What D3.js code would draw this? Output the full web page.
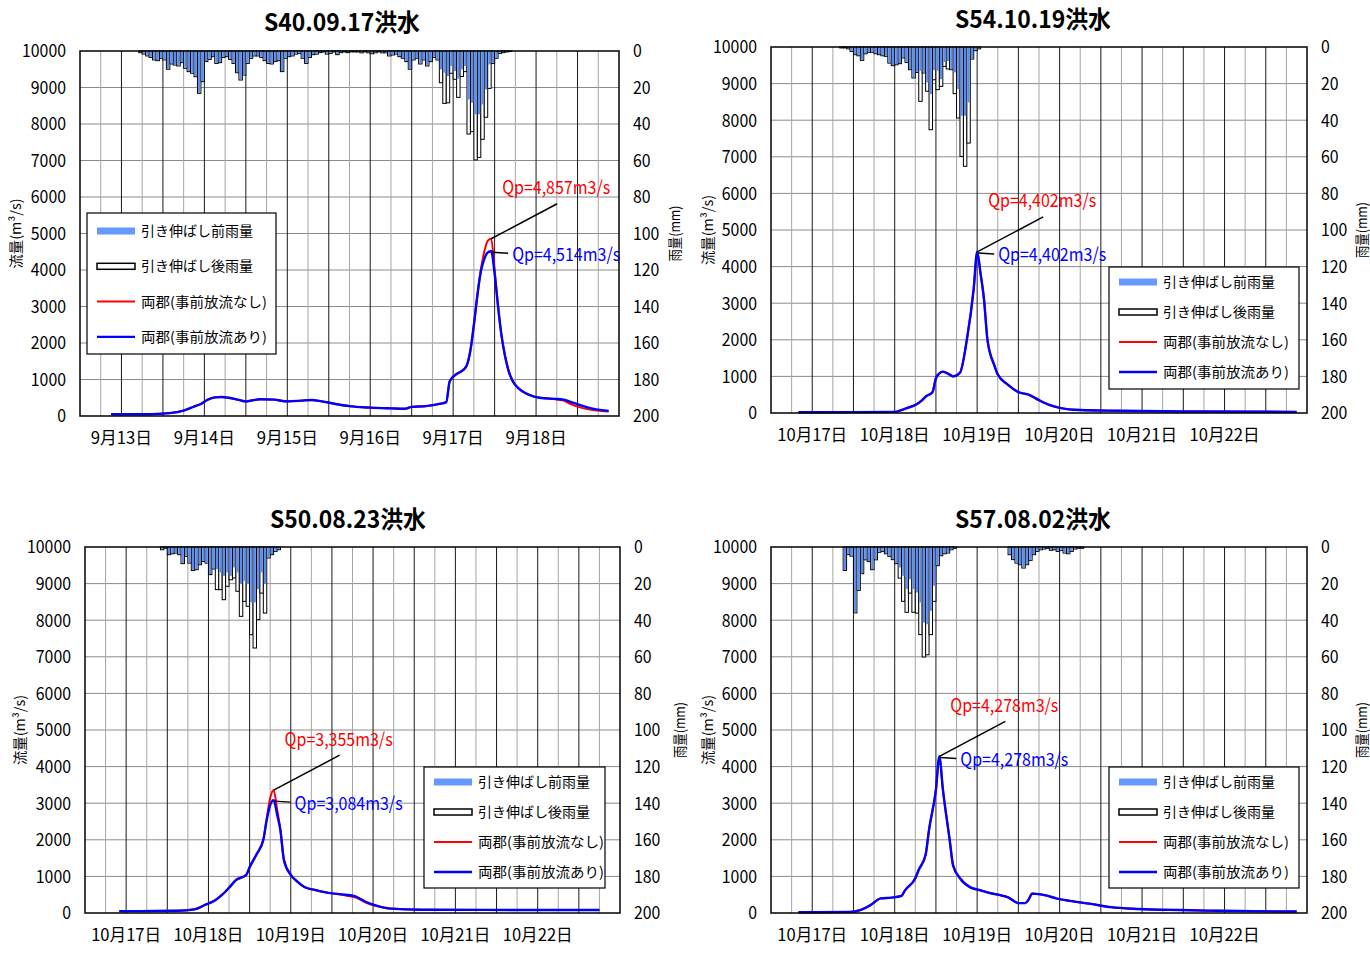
<!DOCTYPE html>
<html><head><meta charset="utf-8">
<script src="https://cdn.jsdelivr.net/npm/d3@7/dist/d3.min.js"></script>
<style>
body{margin:0;background:#fff}
svg text{font-family:"Noto Sans CJK JP","Noto Sans",sans-serif;fill:#000}
</style></head>
<body><svg id="chart" width="1370" height="953"></svg>
<script>
// ---- shared labels / ticks ----
const daysSep = ["9月13日","9月14日","9月15日","9月16日","9月17日","9月18日"];
const daysOct = ["10月17日","10月18日","10月19日","10月20日","10月21日","10月22日"];
const flowTicks = [0,1000,2000,3000,4000,5000,6000,7000,8000,9000,10000];
const rainTicks = [0,20,40,60,80,100,120,140,160,180,200];
const legendLabels = ["引き伸ばし前雨量","引き伸ばし後雨量","両郡(事前放流なし)","両郡(事前放流あり)"];
const flowTitle = "流量(m³/s)";
const rainTitle = "雨量(mm)";

// ---- S40.09.17 flood (hours from axis start) ----
const title1 = "S40.09.17洪水";
const rainStart1 = 17;
const rainBefore1 = [0.9,1.7,2.7,3.5,4.9,5.3,4.0,4.9,10.0,7.1,7.7,8.2,6.4,9.5,11.3,12.2,14.1,23.2,16.8,5.8,
 4.6,3.1,6.8,6.4,3.5,3.1,4.6,6.8,11.9,15.9,13.2,6.8,4.0,2.7,2.7,3.5,5.3,6.8,7.1,5.8,
 5.3,11.3,4.0,3.1,2.7,1.7,1.3,4.0,6.8,3.5,2.0,1.7,0.9,0.5,1.7,1.3,0.5,2.0,0.9,0.5,
 0.9,0.5,0.5,0.5,1.0,0.5,1.0,1.5,1.0,0.5,1.0,1.0,2.7,2.2,1.7,3.1,4.0,5.8,10.0,4.9,
 4.0,7.1,4.9,8.2,5.8,3.5,4.9,10.4,12.2,14.1,8.6,11.3,15.5,10.4,8.6,26.8,28.7,35.0,35.0,29.6,
 21.4,7.7,6.8,4.0,1.3,0.9,0.5,0.3];
const rainAfter1 = [0.9,1.7,2.7,3.5,4.9,5.3,4.0,4.9,10.0,7.1,7.7,8.2,6.4,9.5,11.3,12.2,14.1,23.2,16.8,5.8,
 4.6,3.1,6.8,6.4,3.5,3.1,4.6,6.8,11.9,15.9,13.2,6.8,4.0,2.7,2.7,3.5,5.3,6.8,7.1,5.8,
 5.3,11.3,4.0,3.1,2.7,1.7,1.3,4.0,6.8,3.5,2.0,1.7,0.9,0.5,1.7,1.3,0.5,2.0,0.9,0.5,
 0.9,0.5,0.5,0.5,1.0,0.5,1.0,1.5,1.0,0.5,1.0,1.0,2.7,2.2,1.7,3.1,4.0,5.8,10.0,4.9,
 4.0,7.1,4.9,8.2,5.8,3.5,4.9,17.4,28.7,28.4,12.2,15.5,25.4,14.0,11.3,45.5,44.2,59.7,58.3,48.4,
 36.3,20.5,6.8,4.0,1.3,0.9,0.5,0.3];
const flowNone1 = [[9,50],[20,50],[26,80],[30,150],[33,260],[35,330],[37,450],[39,510],[41,520],[43,500],[46,440],[48,400],
 [50,430],[52,460],[56,450],[60,400],[64,420],[67,440],[70,400],[74,330],[78,270],[84,230],[90,210],[94,200],[96,250],
 [100,270],[104,330],[106,380],[107,950],[109,1150],[111,1270],[112,1400],[113,1800],[114,2500],[115,3300],[116,4000],
 [117,4500],[118,4800],[119,4857],[120,4000],[121,3000],[122,2200],[123,1650],[124,1250],[125,1000],[126,850],[128,680],
 [130,580],[133,500],[137,470],[140,420],[142,330],[145,230],[148,170],[151,140],[153,125]];
const flowWith1 = [[9,50],[20,50],[26,80],[30,150],[33,260],[35,330],[37,450],[39,510],[41,520],[43,500],[46,440],[48,400],
 [50,430],[52,460],[56,450],[60,400],[64,420],[67,440],[70,400],[74,330],[78,270],[84,230],[90,210],[94,200],[96,250],
 [100,270],[104,330],[106,380],[107,950],[109,1150],[111,1270],[112,1400],[113,1800],[114,2500],[115,3300],[116,3950],
 [117,4300],[118,4480],[119,4514],[120,3900],[121,3000],[122,2200],[123,1650],[124,1250],[125,1000],[126,850],[128,680],
 [130,580],[133,500],[137,470],[140,450],[142,390],[145,290],[148,210],[151,160],[153,140]];
const peakNone1 = 4857, peakWith1 = 4514;

// ---- S54.10.19 flood ----
const title2 = "S54.10.19洪水";
const rainStart2 = 20;
const rainBefore2 = [0.5,0.5,1.0,2.4,4.2,4.8,7.3,3.7,2.9,2.9,3.7,4.2,4.8,5.1,8.8,10.2,9.7,9.1,6.0,8.4,
 12.4,16.9,13.9,13.3,14.2,19.7,26.1,13.0,13.3,17.9,8.5,8.0,12.4,14.2,23.3,37.9,37.9,30.6,6.6,2.0,1.0];
const rainAfter2 = [0.5,0.5,1.0,2.4,4.2,4.8,7.3,3.7,2.9,2.9,3.7,4.2,4.8,5.1,8.8,10.2,9.7,9.1,6.0,8.4,
 12.4,16.9,13.9,29.7,14.2,24.2,45.2,17.9,23.3,21.5,10.6,12.0,12.4,25.5,38.8,59.8,65.2,52.5,6.6,2.0,1.0];
const flowNone2 = [[8,20],[36,30],[38,80],[40,150],[42,220],[44,350],[45,450],[47,570],[48,950],[49,1080],[50,1130],
 [51,1100],[52,1050],[53,1000],[55,1100],[57,2000],[59,3400],[60,4402],[61,3800],[62,3100],[63,2000],[65,1300],[66,1050],
 [69,770],[72,570],[75,500],[78,350],[81,220],[84,140],[90,80],[101,60],[125,40],[153,30]];
const flowWith2 = [[8,20],[36,30],[38,80],[40,150],[42,220],[44,350],[45,450],[47,570],[48,950],[49,1080],[50,1130],
 [51,1100],[52,1050],[53,1000],[55,1100],[57,2000],[59,3400],[60,4402],[61,3800],[62,3100],[63,2000],[65,1300],[66,1050],
 [69,770],[72,570],[75,500],[78,350],[81,220],[84,140],[90,80],[101,60],[125,40],[153,30]];
const peakNone2 = 4402, peakWith2 = 4402;

// ---- S50.08.23 flood ----
const title3 = "S50.08.23洪水";
const rainStart3 = 22;
const rainBefore3 = [1.5,0.7,4.2,3.7,3.3,4.2,9.1,5.1,8.8,12.8,12.4,9.7,7.9,8.8,15.1,12.0,12.4,14.2,16.1,14.2,
 16.1,11.5,14.2,20.6,18.8,20.6,30.6,30.6,23.3,14.2,20.6,6.0,4.2,2.4,1.5];
const rainAfter3 = [1.5,0.7,4.2,3.7,3.3,4.2,9.1,5.1,8.8,12.8,12.4,9.7,7.9,8.8,15.1,12.0,23.3,23.3,28.8,21.5,
 17.9,16.9,24.2,37.9,29.7,32.4,47.9,55.2,39.7,25.2,36.1,6.0,4.2,2.4,1.5];
const flowNone3 = [[10,50],[27,60],[32,100],[35,220],[38,350],[40,500],[42,690],[44,900],[47,1040],[48,1250],[50,1600],
 [52,2000],[53,2600],[54,3150],[55,3355],[56,2850],[57,2250],[58,1450],[60,1040],[62,850],[64,710],[67,630],[71,550],
 [76,480],[79,420],[82,280],[85,190],[89,120],[98,90],[150,80]];
const flowWith3 = [[10,50],[27,60],[32,100],[35,220],[38,350],[40,500],[42,690],[44,900],[47,1040],[48,1250],[50,1600],
 [52,2000],[53,2550],[54,2950],[55,3084],[56,2700],[57,2250],[58,1450],[60,1040],[62,850],[64,710],[67,630],[71,550],
 [76,500],[79,450],[82,300],[85,200],[89,120],[98,90],[150,80]];
const peakNone3 = 3355, peakWith3 = 3084;

// ---- S57.08.02 flood ----
const title4 = "S57.08.02洪水";
const rainStart4 = 21;
const rainBefore4 = [12.8,4.2,5.0,36.0,23.7,14.6,7.0,8.0,12.4,7.0,2.9,2.4,3.7,5.1,6.9,9.1,11.5,16.1,23.3,17.9,
 23.3,25.2,30.6,41.6,42.5,35.2,21.5,10.2,4.8,3.7,3.3,1.5,0.7,0,0,0,0,0,0,0,
 0,0,0,0,0,0,0,0,4.2,6.9,8.8,9.7,11.5,9.7,7.3,4.2,2.4,1.5,1.1,0.7,
 1.8,1.5,2.4,1.8,3.3,3.7,2.4,1.1,0.7,0.7];
const rainAfter4 = [12.8,4.2,5.0,36.0,23.7,14.6,7.0,8.0,12.4,7.0,2.9,2.4,3.7,5.1,6.9,9.1,17.0,29.7,35.7,25.2,
 35.7,36.1,47.9,60.1,58.9,47.9,29.7,10.2,4.8,3.7,3.3,1.5,0.7,0,0,0,0,0,0,0,
 0,0,0,0,0,0,0,0,4.2,6.9,8.8,9.7,11.5,9.7,7.3,4.2,2.4,1.5,1.1,0.7,
 1.8,1.5,2.4,1.8,3.3,3.7,2.4,1.1,0.7,0.7];
const flowNone4 = [[8,20],[23,30],[26,80],[29,220],[32,400],[35,420],[38,470],[39,620],[42,950],[43,1180],[45,1590],
 [46,2280],[48,3370],[49,4278],[50,3400],[52,2000],[53,1300],[55,950],[58,700],[61,620],[64,540],[67,480],[69,430],
 [72,270],[74,270],[75,370],[76,530],[80,480],[83,400],[87,330],[93,250],[99,160],[107,110],[119,80],[130,60],[153,40]];
const flowWith4 = [[8,20],[23,30],[26,80],[29,220],[32,400],[35,420],[38,470],[39,620],[42,950],[43,1180],[45,1590],
 [46,2280],[48,3370],[49,4278],[50,3400],[52,2000],[53,1300],[55,950],[58,700],[61,620],[64,540],[67,480],[69,430],
 [72,270],[74,270],[75,370],[76,530],[80,480],[83,400],[87,330],[93,250],[99,160],[107,110],[119,80],[130,60],[153,40]];
const peakNone4 = 4278, peakWith4 = 4278;

// ---- layout of the four panels ----
const panels = [
  {title:title1, days:daysSep, rs:rainStart1, before:rainBefore1, after:rainAfter1, none:flowNone1, withR:flowWith1,
   qNone:peakNone1, qWith:peakWith1, box:{l:80,r:619,t:51,b:416}, titleX:342, titleY:22,
   legend:{x:87,y:213,w:189,h:141,first:231,step:35.3}, yLabX:16, rLabX:675},
  {title:title2, days:daysOct, rs:rainStart2, before:rainBefore2, after:rainAfter2, none:flowNone2, withR:flowWith2,
   qNone:peakNone2, qWith:peakWith2, box:{l:771,r:1307,t:47,b:413}, titleX:1033, titleY:19,
   legend:{x:1109,y:267,w:190,h:122,first:282,step:30}, yLabX:708, rLabX:1362},
  {title:title3, days:daysOct, rs:rainStart3, before:rainBefore3, after:rainAfter3, none:flowNone3, withR:flowWith3,
   qNone:peakNone3, qWith:peakWith3, box:{l:85,r:620,t:547,b:913}, titleX:348, titleY:519,
   legend:{x:424,y:767,w:181,h:121,first:782,step:30}, yLabX:20, rLabX:680},
  {title:title4, days:daysOct, rs:rainStart4, before:rainBefore4, after:rainAfter4, none:flowNone4, withR:flowWith4,
   qNone:peakNone4, qWith:peakWith4, box:{l:771,r:1307,t:547,b:913}, titleX:1033, titleY:519,
   legend:{x:1109,y:767,w:190,h:121,first:782,step:30}, yLabX:708, rLabX:1362}
];

const BLUE_BAR = "#5a8cee";
const svg = d3.select("#chart");

// width of a string with half-width latin and full-width kana/kanji
function jpWidth(s, size){
  let w = 0;
  for (const ch of s){ const c = ch.codePointAt(0); w += (c < 0x2000 || (c >= 0xFF61 && c <= 0xFF9F)) ? 0.5 : 1; }
  return w * size;
}
function fit(sel, size){
  sel.attr("textLength", function(){ return jpWidth(this.textContent, size); })
     .attr("lengthAdjust", "spacingAndGlyphs");
}

function drawPanel(p){
  const g = svg.append("g");
  const {l, r, t, b} = p.box;
  const x = d3.scaleLinear().domain([0,156]).range([l, r]);
  const y = d3.scaleLinear().domain([0,10000]).range([b, t]);
  const yr = d3.scaleLinear().domain([0,200]).range([t, b]);

  // grid
  g.selectAll("line.h").data(flowTicks.slice(1,-1)).join("line")
    .attr("x1", l).attr("x2", r).attr("y1", d => y(d)).attr("y2", d => y(d))
    .attr("stroke", "#8c8c8c").attr("stroke-width", 1);
  g.selectAll("line.v").data(d3.range(6,156,6)).join("line")
    .attr("x1", d => x(d)).attr("x2", d => x(d)).attr("y1", t).attr("y2", b)
    .attr("stroke", d => d % 12 === 0 ? "#1a1a1a" : "#a6a6a6").attr("stroke-width", 1);

  // rainfall (hanging from the top)
  const hw = x(1) - x(0);
  g.selectAll("rect.after").data(p.after).join("rect")
    .attr("x", (d,i) => x(p.rs + i)).attr("width", hw)
    .attr("y", t).attr("height", d => yr(d) - t)
    .attr("fill", "#fff").attr("stroke", "#000").attr("stroke-width", 1)
    .attr("display", d => d > 0 ? null : "none");
  g.selectAll("rect.before").data(p.before).join("rect")
    .attr("x", (d,i) => x(p.rs + i) + 0.6).attr("width", hw - 1.2)
    .attr("y", t).attr("height", d => Math.max(0, yr(d) - t - 0.6))
    .attr("fill", BLUE_BAR)
    .attr("display", d => d > 0 ? null : "none");

  // discharge lines
  const line = d3.line().x(d => x(d[0])).y(d => y(d[1])).curve(d3.curveMonotoneX);
  g.append("path").datum(p.none).attr("d", line).attr("fill","none").attr("stroke","#ff0000").attr("stroke-width",2);
  g.append("path").datum(p.withR).attr("d", line).attr("fill","none").attr("stroke","#0000ff").attr("stroke-width",2.4);

  // frame
  g.append("rect").attr("x", l).attr("y", t).attr("width", r-l).attr("height", b-t)
    .attr("fill","none").attr("stroke","#000").attr("stroke-width",1.5);

  // left axis labels
  g.selectAll("text.yl").data(flowTicks).join("text")
    .attr("x", l - 14).attr("y", d => y(d)).attr("dy","0.36em").attr("text-anchor","end")
    .attr("font-size", 17.6).text(d => d).call(fit, 17.6);
  // right axis labels
  g.selectAll("text.yr").data(rainTicks).join("text")
    .attr("x", r + 14).attr("y", d => yr(d)).attr("dy","0.36em")
    .attr("font-size", 17.6).text(d => d).call(fit, 17.6);
  // day labels
  g.selectAll("text.xl").data(p.days).join("text")
    .attr("x", (d,i) => x(12 + 24*i)).attr("y", b + 22).attr("dy","0.36em").attr("text-anchor","middle")
    .attr("font-size", 17.5).text(d => d).call(fit, 17.5);

  // axis titles
  const cy = (t + b) / 2;
  g.append("text").attr("transform", `translate(${p.yLabX},${cy}) rotate(-90)`)
    .attr("text-anchor","middle").attr("dy","0.36em").attr("font-size",14).text(flowTitle).call(fit, 14);
  g.append("text").attr("transform", `translate(${p.rLabX},${cy}) rotate(-90)`)
    .attr("text-anchor","middle").attr("dy","0.36em").attr("font-size",14).text(rainTitle).call(fit, 14);

  // title
  g.append("text").attr("x", p.titleX).attr("y", p.titleY).attr("dy","0.36em").attr("text-anchor","middle")
    .attr("font-size",24).attr("font-weight","bold").text(p.title).call(fit, 24);

  // peak annotations
  const peakNone = p.none.find(d => d[1] === p.qNone);
  const peakWith = p.withR.find(d => d[1] === p.qWith);
  const pxN = x(peakNone[0]), pyN = y(peakNone[1]);
  const pxW = x(peakWith[0]), pyW = y(peakWith[1]);
  const fmt = d3.format(",");
  g.append("line").attr("x1", pxN).attr("y1", pyN).attr("x2", pxN + 66).attr("y2", pyN - 35)
    .attr("stroke","#000").attr("stroke-width",1.5);
  g.append("text").attr("x", pxN + 11).attr("y", pyN - 51).attr("dy","0.36em")
    .attr("font-size",18).style("fill","#ff0000").text(`Qp=${fmt(p.qNone)}m3/s`).call(fit, 18);
  g.append("line").attr("x1", pxW + 1).attr("y1", pyW + 1).attr("x2", pxW + 17).attr("y2", pyW + 2)
    .attr("stroke","#000").attr("stroke-width",1.5);
  g.append("text").attr("x", pxW + 21).attr("y", pyW + 3).attr("dy","0.36em")
    .attr("font-size",18).style("fill","#0000ff").text(`Qp=${fmt(p.qWith)}m3/s`).call(fit, 18);

  // legend
  const L = p.legend;
  const lg = g.append("g");
  lg.append("rect").attr("x", L.x).attr("y", L.y).attr("width", L.w).attr("height", L.h)
    .attr("fill","#fff").attr("stroke","#000").attr("stroke-width",1.2);
  legendLabels.forEach((lab, i) => {
    const yy = L.first + i * L.step;
    const sx = L.x + 10, sw = 38;
    if (i === 0) lg.append("rect").attr("x", sx).attr("y", yy - 3.5).attr("width", sw).attr("height", 7).attr("fill", "#6699ff");
    if (i === 1) lg.append("rect").attr("x", sx).attr("y", yy - 3).attr("width", sw).attr("height", 6)
      .attr("fill","#fff").attr("stroke","#000").attr("stroke-width",1.5);
    if (i === 2) lg.append("line").attr("x1", sx).attr("x2", sx + sw).attr("y1", yy).attr("y2", yy).attr("stroke","#ff0000").attr("stroke-width",2);
    if (i === 3) lg.append("line").attr("x1", sx).attr("x2", sx + sw).attr("y1", yy).attr("y2", yy).attr("stroke","#0000ff").attr("stroke-width",2.4);
    lg.append("text").attr("x", sx + 44).attr("y", yy).attr("dy","0.36em").attr("font-size",14)
      .text(lab).call(fit, 14);
  });
}

panels.forEach(drawPanel);
</script></body></html>
